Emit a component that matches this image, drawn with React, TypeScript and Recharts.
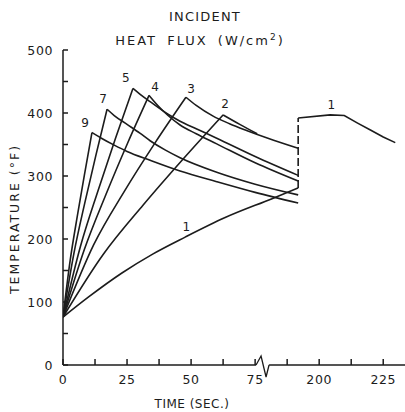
import { LineChart, Line, XAxis, YAxis, ReferenceDot } from "recharts";

type Pt = [number, number];

// x values are plotted on the broken time axis: past the break a value v stands for v + 100 s
const X_TICKS = [0, 12.5, 25, 37.5, 50, 62.5, 75, 87.5, 100, 112.5, 125];
const X_TICK_LABELS: Record<number, string> = { 0: "0", 25: "25", 50: "50", 75: "75", 100: "200", 125: "225" };
const Y_TICKS = [0, 50, 100, 150, 200, 250, 300, 350, 400, 450, 500];
const AXIS_BREAK = 77.7;

// temperature (°F) vs time for each incident heat flux (W/cm2)
const flux9: Pt[] = [[0, 76], [2.8, 166], [5.7, 239], [8.5, 305], [11.3, 369], [15, 360], [20, 349], [25, 339], [34, 325], [45.7, 308], [60, 291], [75, 274], [91.8, 257]];
const flux7: Pt[] = [[0, 76], [4.3, 178], [8.6, 259], [12.9, 334], [17.2, 406], [20, 396], [25, 382], [30, 368], [34, 356], [40, 341], [45.7, 329], [60, 306], [75, 287], [91.8, 270]];
const flux5: Pt[] = [[0, 76], [6.8, 188], [13.7, 277], [20.5, 360], [27.3, 439], [30, 430], [34, 418], [41, 398], [45.7, 387], [52, 375], [60, 360], [75, 331], [91.8, 301]];
const flux4: Pt[] = [[0, 76], [8.4, 184], [16.8, 271], [25.2, 352], [33.6, 428], [37, 412], [41, 396], [45.7, 381], [52, 367], [60, 351], [75, 321], [91.8, 292]];
const flux3: Pt[] = [[0, 76], [12, 191], [24, 276], [36, 353], [48, 425], [52, 412], [58.6, 395], [65, 383], [71.9, 372], [80, 360], [91.8, 344]];
const flux2: Pt[] = [[0, 76], [15.6, 175], [31.3, 254], [46.9, 327], [62.5, 397], [69, 382], [75.8, 367]];
const flux1: Pt[] = [[0, 76], [10, 108], [23, 146], [35, 176], [47.7, 203], [63.3, 234], [81.6, 264], [91.8, 281]];
const flux1Hold: Pt[] = [[91.8, 392], [104.3, 397], [109.8, 396], [115, 384], [120, 373], [125, 362], [129.7, 353]];

const INK = "#1c1c1c";
const FONT = "'DejaVu Sans', sans-serif";

const toRows = (pts: Pt[]) => pts.map(([t, T]) => ({ t, T }));

// split at the peak so the corner stays sharp
function split(pts: Pt[]) {
  let k = 0;
  pts.forEach((p, i) => {
    if (p[1] > pts[k][1]) k = i;
  });
  return { heat: toRows(pts.slice(0, k + 1)), cool: toRows(pts.slice(k)), peak: k };
}

const curves = [
  { name: "9", pts: flux9, dx: -7, dy: -6 },
  { name: "7", pts: flux7, dx: -4, dy: -6 },
  { name: "5", pts: flux5, dx: -7, dy: -6 },
  { name: "4", pts: flux4, dx: 6, dy: -4 },
  { name: "3", pts: flux3, dx: 5, dy: -4 },
  { name: "2", pts: flux2, dx: 2, dy: -7 },
];

const labels = [
  ...curves.map((c) => ({ text: c.name, p: c.pts[split(c.pts).peak], dx: c.dx, dy: c.dy })),
  { text: "1", p: flux1[4], dx: 1, dy: -6 },
  { text: "1", p: flux1Hold[1], dx: 1, dy: -6 },
];

const dashed = toRows([flux1[flux1.length - 1], flux1Hold[0]]);

const textStyle = { fontSize: 12.5, fill: INK, fontFamily: FONT, letterSpacing: 0.6 };

// tick label plus an inward tick mark
function XTick(props: any) {
  const { x, y, payload } = props;
  return (
    <g>
      <path d={`M${x},${y} V${y - 6}`} stroke={INK} strokeWidth={1.5} fill="none" />
      <text x={x} y={y + 19} textAnchor="middle" {...textStyle}>
        {X_TICK_LABELS[payload.value] ?? ""}
      </text>
    </g>
  );
}

function YTick(props: any) {
  const { x, y, payload } = props;
  return (
    <g>
      <path d={`M${x},${y} H${x + 5}`} stroke={INK} strokeWidth={1.5} fill="none" />
      <text x={x - 10} y={y + 4.5} textAnchor="end" {...textStyle}>
        {payload.value % 100 === 0 ? String(payload.value) : ""}
      </text>
    </g>
  );
}

export default function App() {
  const lineProps = {
    dataKey: "T",
    type: "monotone" as const,
    stroke: INK,
    strokeWidth: 1.6,
    dot: false,
    activeDot: false,
    isAnimationActive: false,
  };
  return (
    <div style={{ position: "absolute", left: 0, top: 0, width: 405, height: 412, background: "#fff", fontFamily: FONT, color: INK }}>
      <div style={{ position: "absolute", left: 105, width: 200, top: 10, fontSize: 13, lineHeight: "14px", letterSpacing: 1.2, textAlign: "center" }}>
        INCIDENT
      </div>
      <div style={{ position: "absolute", left: 100, width: 200, top: 30, fontSize: 13, lineHeight: "14px", letterSpacing: 2, wordSpacing: 4, textAlign: "center" }}>
        HEAT FLUX (W/cm<sup style={{ fontSize: 9, verticalAlign: "5px" }}>2</sup>)
      </div>
      <div style={{ position: "absolute", left: -65, width: 160, top: 212, fontSize: 12.5, lineHeight: "14px", letterSpacing: 2, textAlign: "center", transform: "rotate(-90deg)" }}>
        TEMPERATURE (°F)
      </div>
      <div style={{ position: "absolute", left: 92, width: 200, top: 397, fontSize: 12, lineHeight: "14px", letterSpacing: 0.5, textAlign: "center" }}>
        TIME (SEC.)
      </div>
      <LineChart width={405} height={412} margin={{ top: 50, right: 0, left: 0, bottom: 0 }} style={{ position: "absolute", left: 0, top: 0 }}>
        <XAxis
          type="number"
          dataKey="t"
          domain={[0, 133.5]}
          ticks={X_TICKS}
          allowDataOverflow
          height={47}
          tickSize={0}
          tickMargin={0}
          interval={0}
          axisLine={{ stroke: INK, strokeWidth: 1.5 }}
          tickLine={false}
          tick={XTick}
        />
        <YAxis
          type="number"
          domain={[0, 500]}
          ticks={Y_TICKS}
          width={63}
          tickSize={0}
          tickMargin={0}
          interval={0}
          axisLine={{ stroke: INK, strokeWidth: 1.5 }}
          tickLine={false}
          tick={YTick}
        />
        {curves.map((c) => {
          const s = split(c.pts);
          return [
            <Line key={`h${c.name}`} {...lineProps} data={s.heat} />,
            <Line key={`c${c.name}`} {...lineProps} data={s.cool} />,
          ];
        })}
        <Line key="h1" {...lineProps} data={toRows(flux1)} />
        <Line key="d1" {...lineProps} type="linear" strokeDasharray="8 3" data={dashed} />
        <Line key="u1" {...lineProps} type="linear" data={toRows(flux1Hold)} />
        {labels.map((l, i) => (
          <ReferenceDot
            key={`lab${i}`}
            x={l.p[0]}
            y={l.p[1]}
            r={1}
            ifOverflow="visible"
            shape={(props: any) => (
              <text x={props.cx + l.dx} y={props.cy + l.dy} textAnchor="middle" fontSize={12} fontFamily={FONT} fill={INK}>
                {l.text}
              </text>
            )}
          />
        ))}
        <ReferenceDot
          x={AXIS_BREAK}
          y={0}
          r={1}
          ifOverflow="visible"
          shape={(props: any) => {
            const { cx, cy } = props;
            return (
              <g>
                <rect x={cx - 6} y={cy - 2} width={13} height={4} fill="#fff" />
                <path
                  d={`M${cx - 6},${cy} L${cx - 1},${cy - 9} L${cx + 4},${cy + 12} L${cx + 7},${cy}`}
                  fill="none"
                  stroke={INK}
                  strokeWidth={1.3}
                />
              </g>
            );
          }}
        />
      </LineChart>
    </div>
  );
}
